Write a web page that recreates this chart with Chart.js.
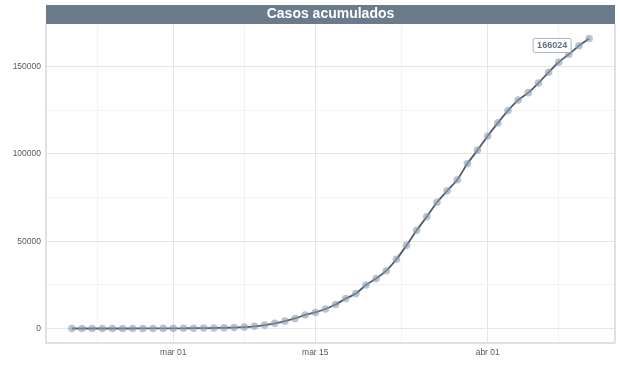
<!DOCTYPE html>
<html>
<head>
<meta charset="utf-8">
<script src="https://cdn.jsdelivr.net/npm/chart.js@4/dist/chart.umd.min.js"></script>
<style>
  html, body { margin: 0; padding: 0; background: #fff; }
  #wrap { width: 620px; height: 368px; position: relative; }
</style>
</head>
<body>
<div id="wrap"><canvas id="casosChart"></canvas></div>
<script>
// fechas (20 feb - 11 abr 2020)
const fechas = [
  '2020-02-20','2020-02-21','2020-02-22','2020-02-23','2020-02-24','2020-02-25','2020-02-26','2020-02-27','2020-02-28','2020-02-29',
  '2020-03-01','2020-03-02','2020-03-03','2020-03-04','2020-03-05','2020-03-06','2020-03-07','2020-03-08','2020-03-09','2020-03-10',
  '2020-03-11','2020-03-12','2020-03-13','2020-03-14','2020-03-15','2020-03-16','2020-03-17','2020-03-18','2020-03-19','2020-03-20',
  '2020-03-21','2020-03-22','2020-03-23','2020-03-24','2020-03-25','2020-03-26','2020-03-27','2020-03-28','2020-03-29','2020-03-30',
  '2020-03-31','2020-04-01','2020-04-02','2020-04-03','2020-04-04','2020-04-05','2020-04-06','2020-04-07','2020-04-08','2020-04-09',
  '2020-04-10','2020-04-11'
];

// casos acumulados
const casos = [
  3, 3, 3, 3, 3, 6, 13, 23, 32, 45,
  84, 120, 165, 228, 282, 400, 525, 800, 1250, 1950,
  2950, 4209, 5753, 7753, 9191, 11178, 13716, 17147, 19980, 24926,
  28572, 33089, 39673, 47610, 56188, 64059, 72248, 78797, 85195, 94417,
  102136, 110238, 117710, 124736, 130759, 135032, 140510, 146690, 152446, 157022,
  161852, 166024
];

// marcas del eje x (índice de día) y sus etiquetas
const xMarcas = [2.5, 10, 17, 24, 32.5, 41, 48];
const xEtiquetas = { 10: 'mar 01', 24: 'mar 15', 41: 'abr 01' };

// marcas del eje y
const yMarcas = [0, 25000, 50000, 75000, 100000, 125000, 150000];
const yEtiquetas = { 0: '0', 50000: '50000', 100000: '100000', 150000: '150000' };

const fuente = "'Liberation Sans', Arial, Helvetica, sans-serif";

// franja gris detrás del título
const franjaTitulo = {
  id: 'franjaTitulo',
  beforeDraw(chart) {
    const b = chart.titleBlock;
    const ctx = chart.ctx;
    ctx.save();
    ctx.fillStyle = '#6a7b8c';
    ctx.fillRect(b.left, b.top, b.width, b.height);
    ctx.restore();
  }
};

// borde del panel
const bordePanel = {
  id: 'bordePanel',
  afterDraw(chart) {
    const a = chart.chartArea;
    const ctx = chart.ctx;
    ctx.save();
    ctx.strokeStyle = '#d8d8d8';
    ctx.lineWidth = 1.5;
    ctx.beginPath();
    ctx.moveTo(a.left, a.top);
    ctx.lineTo(a.left, a.bottom);
    ctx.lineTo(a.right, a.bottom);
    ctx.lineTo(a.right, a.top);
    ctx.stroke();
    ctx.restore();
  }
};

// etiqueta con el último valor
const etiquetaFinal = {
  id: 'etiquetaFinal',
  afterDatasetsDraw(chart) {
    const meta = chart.getDatasetMeta(0);
    const p = meta.data[meta.data.length - 1];
    const texto = String(casos[casos.length - 1]);
    const ctx = chart.ctx;
    const w = 38, h = 14;
    const cx = p.x - 37, cy = p.y + 7;
    ctx.save();
    ctx.beginPath();
    ctx.roundRect(cx - w / 2, cy - h / 2, w, h, 2);
    ctx.fillStyle = '#ffffff';
    ctx.fill();
    ctx.strokeStyle = '#a9b3bf';
    ctx.lineWidth = 1;
    ctx.stroke();
    ctx.fillStyle = '#617183';
    ctx.font = 'bold 9px ' + fuente;
    ctx.textAlign = 'center';
    ctx.textBaseline = 'middle';
    ctx.fillText(texto, cx, cy + 0.5);
    ctx.restore();
  }
};

const ctx = document.getElementById('casosChart').getContext('2d');
new Chart(ctx, {
  type: 'line',
  data: {
    datasets: [{
      label: 'Casos acumulados',
      data: casos.map((v, i) => ({ x: i, y: v })),
      borderColor: '#4e5c6b',
      borderWidth: 1.8,
      tension: 0.35,
      pointRadius: 3.8,
      pointBackgroundColor: 'rgba(140, 157, 178, 0.6)',
      pointBorderWidth: 0,
      fill: false
    }]
  },
  options: {
    responsive: true,
    maintainAspectRatio: false,
    animation: false,
    layout: { padding: { left: 0, right: 5, top: 5, bottom: 0 } },
    plugins: {
      legend: { display: false },
      tooltip: { enabled: false },
      title: {
        display: true,
        text: 'Casos acumulados',
        color: '#ffffff',
        fullSize: false,
        font: { family: fuente, size: 14, weight: 'bold', lineHeight: 19 / 14 },
        padding: 0
      }
    },
    scales: {
      x: {
        type: 'linear',
        min: -2.55,
        max: 53.55,
        afterBuildTicks: s => { s.ticks = xMarcas.map(v => ({ value: v })); },
        afterFit: s => { s.height = 25; },
        border: { display: false },
        grid: {
          drawTicks: false,
          color: c => (xEtiquetas[c.tick.value] ? '#e6e6e6' : '#f3f3f3'),
          lineWidth: 1
        },
        ticks: {
          autoSkip: false,
          maxRotation: 0,
          padding: 5,
          color: '#5a5a5a',
          font: { family: fuente, size: 8.5 },
          callback: v => xEtiquetas[v] || ''
        }
      },
      y: {
        min: -8301,
        max: 174325,
        afterBuildTicks: s => { s.ticks = yMarcas.map(v => ({ value: v })); },
        afterFit: s => { s.width = 46; },
        border: { display: false },
        grid: {
          drawTicks: false,
          color: c => (yEtiquetas[c.tick.value] ? '#e6e6e6' : '#f3f3f3'),
          lineWidth: 1
        },
        ticks: {
          autoSkip: false,
          padding: 5,
          color: '#5a5a5a',
          font: { family: fuente, size: 8.5 },
          callback: v => yEtiquetas[v] || ''
        }
      }
    }
  },
  plugins: [franjaTitulo, bordePanel, etiquetaFinal]
});
</script>
</body>
</html>
